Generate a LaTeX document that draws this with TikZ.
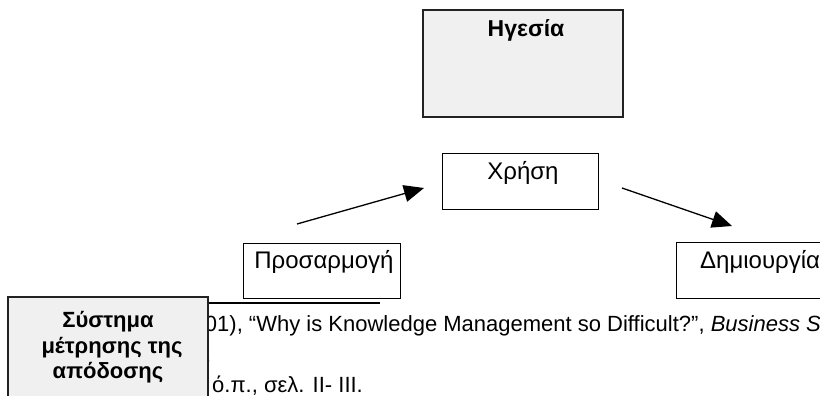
\documentclass[tikz,border=0pt]{standalone}
\usepackage{fontspec}
\setmainfont{Liberation Sans}
\usetikzlibrary{arrows.meta}
\definecolor{panelgray}{HTML}{F0F0F0}
\definecolor{edgegray}{HTML}{222222}
\tikzset{
  x=1pt, y=-1pt,
  plainbox/.style={draw=black, line width=1pt, fill=white},
  shadedbox/.style={draw=edgegray, line width=1.6pt, fill=panelgray},
  label/.style={anchor=base, inner sep=0pt, font=\fontsize{24}{28}\selectfont},
  boldlabel/.style={anchor=base, inner sep=0pt, font=\fontsize{23}{26}\selectfont\bfseries},
  panellabel/.style={anchor=base, inner sep=0pt, font=\fontsize{22}{26}\selectfont\bfseries},
  note/.style={anchor=base west, inner sep=0pt, font=\fontsize{22}{26}\selectfont},
  flow/.style={line width=1.3pt, -{Triangle[length=20pt, width=17pt]}}
}
\begin{document}
\begin{tikzpicture}
\useasboundingbox (0,0) rectangle (820,396);
\clip (0,0) rectangle (820,396);

% boxes of the cycle
\draw[shadedbox] (423,10) rectangle (623,117);
\node[boldlabel] (lead) at (526,37) {Ηγεσία};

\draw[plainbox] (442,153) rectangle (598,209);
\node[label] (use) at (523,179) {Χρήση};

\draw[plainbox] (243,243) rectangle (400,298);
\node[label] (adapt) at (324,268) {Προσαρμογή};

\draw[plainbox] (676,242) rectangle (840,298);
\node[label, anchor=base west] (create) at (700,268) {Δημιουργία};

% arrows between the stages
\coordinate (a1s) at (297,224);
\coordinate (a1e) at (424,188);
\coordinate (a2s) at (622,188);
\coordinate (a2e) at (732,226);
\draw[flow] (a1s) -- (a1e);
\draw[flow] (a2s) -- (a2e);

% footnote rule and footnote lines
\coordinate (ruleL) at (208,303);
\coordinate (ruleR) at (380,303);
\draw[line width=1.5pt] (ruleL) -- (ruleR);
\node[note] (fn1) at (173,331) {(2001), “Why is Knowledge Management so Difficult?”, \textit{Business S}};
\node[note] (fn2) at (205,362) {.};
\node[note] (fn3) at (212,392) {ό.π., σελ. II- III.};

% measurement panel covering the start of the footnotes
\draw[shadedbox] (8,297) rectangle (208,410);
\node[panellabel] (m1) at (108,327) {Σύστημα};
\node[panellabel] (m2) at (112,353) {μέτρησης της};
\node[panellabel] (m3) at (108,378) {απόδοσης};
\end{tikzpicture}
\end{document}
